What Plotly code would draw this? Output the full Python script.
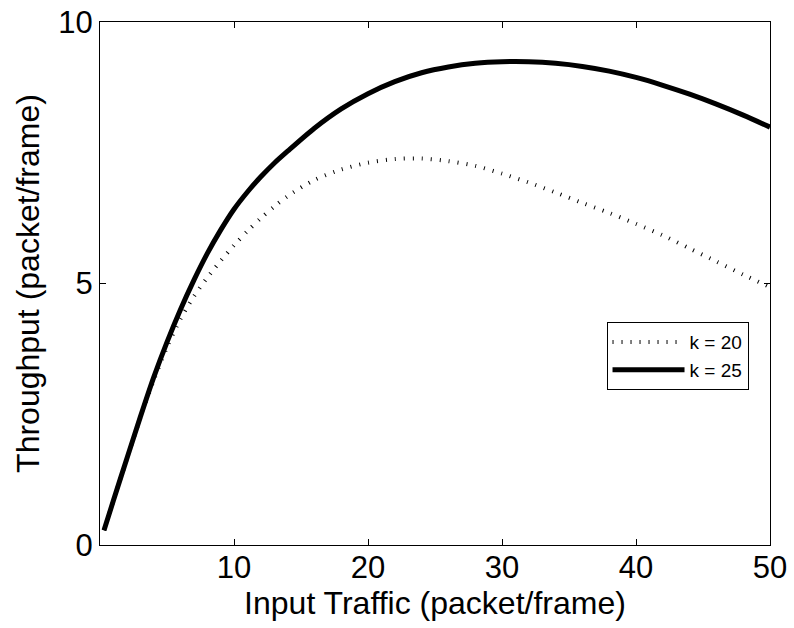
import plotly.graph_objects as go

# Input traffic (packet/frame)
x_vals = [0.3, 1, 2, 3, 4, 5, 6, 7, 8, 9, 10, 11, 12, 13, 14, 16, 18, 20, 22,
          24, 26, 28, 30, 32, 34, 36, 38, 40, 42, 44, 46, 48, 50]

# Throughput for k = 20 (dotted)
k20 = [0.28, 0.85, 1.64, 2.42, 3.14, 3.78, 4.32, 4.75, 5.11, 5.43, 5.73, 6.0,
       6.25, 6.47, 6.67, 6.98, 7.18, 7.31, 7.38, 7.39, 7.34, 7.25, 7.1, 6.93,
       6.74, 6.54, 6.35, 6.14, 5.92, 5.67, 5.42, 5.17, 4.93]

# Throughput for k = 25 (solid)
k25 = [0.28, 0.85, 1.65, 2.44, 3.2, 3.88, 4.5, 5.06, 5.57, 6.02, 6.42, 6.75,
       7.04, 7.3, 7.53, 7.97, 8.34, 8.63, 8.86, 9.03, 9.14, 9.21, 9.24, 9.24,
       9.21, 9.15, 9.06, 8.94, 8.79, 8.62, 8.43, 8.22, 7.99]

x_ticks = [10, 20, 30, 40, 50]
y_ticks = [0, 5, 10]

FONT = "Liberation Sans, Arial, sans-serif"

fig = go.Figure()
fig.add_trace(go.Scatter(
    x=x_vals, y=k20, mode="lines", name="k = 20",
    line=dict(color="black", width=4, dash="1px,8px", shape="spline",
              smoothing=0.8),
))
fig.add_trace(go.Scatter(
    x=x_vals, y=k25, mode="lines", name="k = 25",
    line=dict(color="black", width=5, shape="spline", smoothing=0.8),
))

axis_common = dict(
    showgrid=False, zeroline=False, showline=True, linecolor="black",
    linewidth=1, mirror="ticks", ticks="inside", ticklen=6, tickwidth=1,
    tickcolor="black", tickfont=dict(family=FONT, size=31, color="black"),
    automargin=False,
)

fig.update_layout(
    width=794, height=628,
    margin=dict(l=100, r=24, t=22, b=83),
    paper_bgcolor="white", plot_bgcolor="white",
    font=dict(family=FONT, color="black"),
    xaxis=dict(
        range=[0, 50], tickvals=x_ticks, ticktext=[str(v) for v in x_ticks],
        title=dict(text="Input Traffic (packet/frame)",
                   font=dict(family=FONT, size=32, color="black"), standoff=0),
        ticklabelstandoff=-5,
        **axis_common,
    ),
    yaxis=dict(
        range=[0, 10], tickvals=y_ticks, ticktext=[str(v) for v in y_ticks],
        title=dict(text="Throughput (packet/frame)",
                   font=dict(family=FONT, size=32, color="black"), standoff=9),
        **axis_common,
    ),
    showlegend=True,
    legend=dict(
        x=0.756, y=0.426, xanchor="left", yanchor="top",
        bgcolor="white", bordercolor="black", borderwidth=1,
        font=dict(family=FONT, size=19, color="black"),
        itemwidth=72, tracegroupgap=0,
    ),
)

fig.write_html("out.html")
